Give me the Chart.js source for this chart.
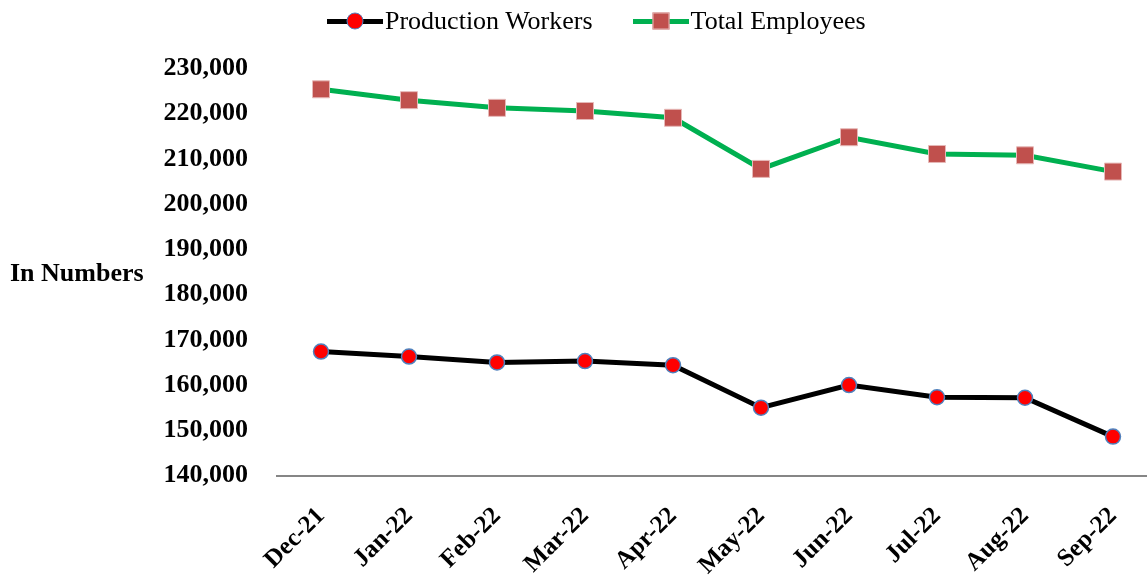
<!DOCTYPE html>
<html>
<head>
<meta charset="utf-8">
<title>Production Workers vs Total Employees</title>
<script src="https://cdn.jsdelivr.net/npm/chart.js@4/dist/chart.umd.min.js"></script>
<style>
  html, body { margin: 0; padding: 0; background: #fff; overflow: hidden; }
  #wrap { position: absolute; left: 0; top: 0; width: 1157px; height: 575px; }
  #legend {
    position: absolute; left: 327px; top: 6px; height: 30px;
    display: flex; gap: 40px; align-items: center;
    font: 26px "Liberation Serif", "Times New Roman", serif; color: #000;
  }
  .lg-item { display: flex; align-items: center; line-height: 30px; white-space: nowrap; }
  .lg-line { position: relative; width: 56px; height: 5px; margin-right: 2px; }
  .lg-mark { position: absolute; left: 50%; top: 50%; transform: translate(-50%, -50%); box-sizing: border-box; }
</style>
</head>
<body>
<div id="wrap">
  <canvas id="chart"></canvas>
  <div id="legend"></div>
</div>
<script>
/* ---------- Data ---------- */
const months = ["Dec-21", "Jan-22", "Feb-22", "Mar-22", "Apr-22", "May-22", "Jun-22", "Jul-22", "Aug-22", "Sep-22"];
const productionWorkers = [167400, 166300, 165000, 165300, 164400, 155000, 160000, 157300, 157200, 148600];
const totalEmployees    = [225400, 223000, 221300, 220600, 219100, 207800, 214800, 211100, 210800, 207200];
const yMin = 140000, yMax = 230000, yStep = 10000;
const yTitle = "In Numbers";

/* ---------- Helpers ---------- */
const $ = (sel, root=document) => root.querySelector(sel);
const FONT = '"Liberation Serif", "Times New Roman", serif';
const fmt = (n) => Number(n).toLocaleString("en-US");

/* ---------- HTML legend (line + marker, like the office chart) ---------- */
const htmlLegend = {
  id: "htmlLegend",
  afterUpdate(chart) {
    const box = $("#legend");
    box.innerHTML = "";
    chart.data.datasets.forEach(ds => {
      const item = document.createElement("div");
      item.className = "lg-item";
      const line = document.createElement("span");
      line.className = "lg-line";
      line.style.background = ds.borderColor;
      const mark = document.createElement("span");
      mark.className = "lg-mark";
      mark.style.width = "17px";
      mark.style.height = "17px";
      mark.style.background = ds.pointBackgroundColor;
      mark.style.border = `${ds.pointBorderWidth}px solid ${ds.pointBorderColor}`;
      if (ds.pointStyle !== "rect") mark.style.borderRadius = "50%";
      line.appendChild(mark);
      const txt = document.createElement("span");
      txt.textContent = ds.label;
      item.appendChild(line);
      item.appendChild(txt);
      box.appendChild(item);
    });
  }
};

/* ---------- Horizontal y-axis title at the left ---------- */
const sideTitle = {
  id: "sideTitle",
  afterDraw(chart) {
    const { ctx, chartArea } = chart;
    ctx.save();
    ctx.font = `bold 26px ${FONT}`;
    ctx.fillStyle = "#000";
    ctx.textAlign = "left";
    ctx.textBaseline = "middle";
    ctx.fillText(yTitle, 10, (chartArea.top + chartArea.bottom) / 2 + 2);
    ctx.restore();
  }
};

/* ---------- Chart ---------- */
new Chart($("#chart").getContext("2d"), {
  type: "line",
  data: {
    labels: months,
    datasets: [
      {
        label: "Production Workers",
        data: productionWorkers,
        borderColor: "#000000",
        borderWidth: 5,
        tension: 0,
        pointStyle: "circle",
        pointRadius: 7.5,
        pointBackgroundColor: "#FF0000",
        pointBorderColor: "#4F81BD",
        pointBorderWidth: 1.5
      },
      {
        label: "Total Employees",
        data: totalEmployees,
        borderColor: "#00B050",
        borderWidth: 5,
        tension: 0,
        pointStyle: "rect",
        pointRadius: 12,
        pointBackgroundColor: "#C0504D",
        pointBorderColor: "#E6B9B8",
        pointBorderWidth: 1
      }
    ]
  },
  options: {
    responsive: true,
    maintainAspectRatio: false,
    animation: false,
    layout: { autoPadding: false, padding: { top: 68.5, left: 0, right: 0, bottom: 0 } },
    plugins: { legend: { display: false }, tooltip: { enabled: false } },
    scales: {
      x: {
        offset: true,
        grid: { display: false, drawTicks: false },
        border: { display: true, color: "#868686", width: 2 },
        ticks: {
          autoSkip: false, minRotation: 45, maxRotation: 45, padding: 26,
          color: "#000", font: { family: FONT, size: 25, weight: "bold" }
        },
        // keep the plot running to the right edge like the original
        afterFit: (s) => { s.height = 99.5; s.paddingLeft = 0; s.paddingRight = 0; }
      },
      y: {
        min: yMin, max: yMax,
        grid: { display: false, drawTicks: false },
        border: { display: false },
        ticks: {
          stepSize: yStep, padding: 29, color: "#000",
          font: { family: FONT, size: 26, weight: "bold" },
          callback: (v) => fmt(v)
        },
        afterFit: (s) => { s.width = 277; }
      }
    }
  },
  plugins: [htmlLegend, sideTitle]
});
</script>
</body>
</html>
